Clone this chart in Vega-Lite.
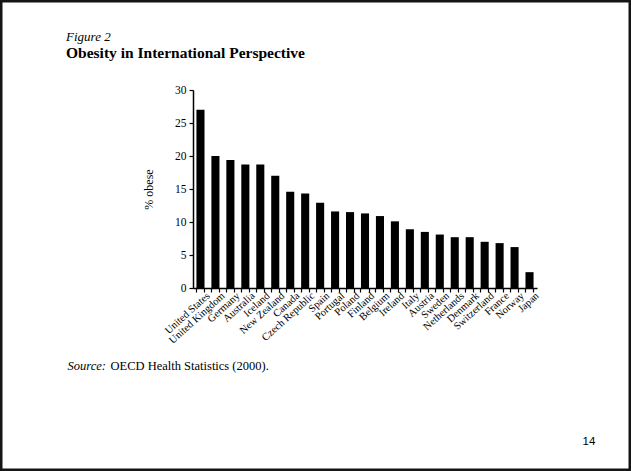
{
  "$schema": "https://vega.github.io/schema/vega-lite/v6.json",
  "width": 631,
  "height": 471,
  "autosize": {"type": "none"},
  "padding": 0,
  "background": "white",
  "config": {
    "view": {"stroke": "#151515", "strokeWidth": 5, "fill": "white"},
    "font": "Liberation Serif"
  },
  "title": {
    "text": "Figure 2",
    "subtitle": "Obesity in International Perspective",
    "anchor": "start",
    "frame": "group",
    "orient": "top",
    "offset": -61,
    "dx": 66,
    "font": "Liberation Serif",
    "fontStyle": "italic",
    "fontWeight": "normal",
    "fontSize": 13,
    "color": "black",
    "subtitleFont": "Liberation Serif",
    "subtitleFontWeight": "bold",
    "subtitleFontSize": 15.5,
    "subtitleColor": "black",
    "subtitlePadding": 2
  },
  "data": {
    "values": [
      {"country": "United States", "obese": 27.0},
      {"country": "United Kingdom", "obese": 20.0},
      {"country": "Germany", "obese": 19.4},
      {"country": "Australia", "obese": 18.7},
      {"country": "Iceland", "obese": 18.7},
      {"country": "New Zealand", "obese": 17.0},
      {"country": "Canada", "obese": 14.6},
      {"country": "Czech Republic", "obese": 14.3},
      {"country": "Spain", "obese": 12.9},
      {"country": "Portugal", "obese": 11.6},
      {"country": "Poland", "obese": 11.5},
      {"country": "Finland", "obese": 11.3},
      {"country": "Belgium", "obese": 10.9},
      {"country": "Ireland", "obese": 10.1},
      {"country": "Italy", "obese": 8.9},
      {"country": "Austria", "obese": 8.5},
      {"country": "Sweden", "obese": 8.1},
      {"country": "Netherlands", "obese": 7.7},
      {"country": "Denmark", "obese": 7.7},
      {"country": "Switzerland", "obese": 7.0},
      {"country": "France", "obese": 6.8},
      {"country": "Norway", "obese": 6.2},
      {"country": "Japan", "obese": 2.4}
    ]
  },
  "layer": [
    {
      "mark": {"type": "bar", "color": "black"},
      "encoding": {
        "x": {
          "field": "country",
          "type": "nominal",
          "sort": null,
          "scale": {"range": [193, 537], "paddingInner": 0.46, "paddingOuter": 0.23},
          "axis": {
            "orient": "bottom",
            "offset": -183,
            "bandPosition": 0,
            "domainColor": "black",
            "domainWidth": 1.5,
            "tickColor": "black",
            "tickWidth": 1.2,
            "tickSize": 4,
            "labelAngle": -42,
            "labelAlign": "right",
            "labelBaseline": "middle",
            "labelFont": "Liberation Serif",
            "labelFontSize": 10.5,
            "labelColor": "black",
            "labelOffset": 8,
            "labelPadding": 2,
            "labelOverlap": false,
            "labelBound": false,
            "labelLimit": 300,
            "title": "OECD Health Statistics (2000).",
            "titleX": 110,
            "titleY": 81,
            "titleAlign": "left",
            "titleBaseline": "alphabetic",
            "titleFont": "Liberation Serif",
            "titleFontWeight": "normal",
            "titleFontSize": 12.5,
            "titleColor": "black"
          }
        },
        "y": {
          "field": "obese",
          "type": "quantitative",
          "scale": {"domain": [0, 30], "range": [288, 90], "nice": false, "zero": true},
          "axis": {
            "orient": "left",
            "offset": -193,
            "values": [0, 5, 10, 15, 20, 25, 30],
            "grid": false,
            "domainColor": "black",
            "domainWidth": 1.5,
            "tickColor": "black",
            "tickWidth": 1.2,
            "tickSize": 4,
            "labelFont": "Liberation Serif",
            "labelFontSize": 11.5,
            "labelColor": "black",
            "labelPadding": 3,
            "title": "% obese",
            "titleFont": "Liberation Serif",
            "titleFontWeight": "normal",
            "titleFontSize": 12,
            "titleColor": "black",
            "titleAngle": -90,
            "titleAlign": "center",
            "titleBaseline": "middle",
            "titleX": -45,
            "titleY": 189
          }
        }
      }
    },
    {
      "mark": {"type": "bar", "opacity": 0},
      "encoding": {
        "x": {
          "field": "country",
          "type": "nominal",
          "sort": null,
          "scale": {"range": [193, 537], "paddingInner": 0.46, "paddingOuter": 0.23},
          "axis": {
            "orient": "bottom",
            "offset": -183,
            "bandPosition": 1,
            "domain": false,
            "labels": false,
            "ticks": true,
            "tickColor": "black",
            "tickWidth": 1.2,
            "tickSize": 4,
            "title": "Source:",
            "titleX": 67,
            "titleY": 81,
            "titleAlign": "left",
            "titleBaseline": "alphabetic",
            "titleFont": "Liberation Serif",
            "titleFontStyle": "italic",
            "titleFontWeight": "normal",
            "titleFontSize": 12.5,
            "titleColor": "black"
          }
        },
        "y": {
          "field": "obese",
          "type": "quantitative",
          "scale": {"domain": [0, 30], "range": [288, 90], "nice": false, "zero": true},
          "axis": {
            "orient": "right",
            "offset": 0,
            "domain": false,
            "labels": false,
            "ticks": false,
            "grid": false,
            "title": "14",
            "titleFont": "Liberation Sans",
            "titleFontWeight": "normal",
            "titleFontSize": 11.5,
            "titleColor": "black",
            "titleAngle": 0,
            "titleAlign": "left",
            "titleBaseline": "alphabetic",
            "titleX": -49,
            "titleY": 444
          }
        }
      }
    }
  ],
  "resolve": {
    "scale": {"x": "independent", "y": "independent"},
    "axis": {"x": "independent", "y": "independent"}
  }
}
